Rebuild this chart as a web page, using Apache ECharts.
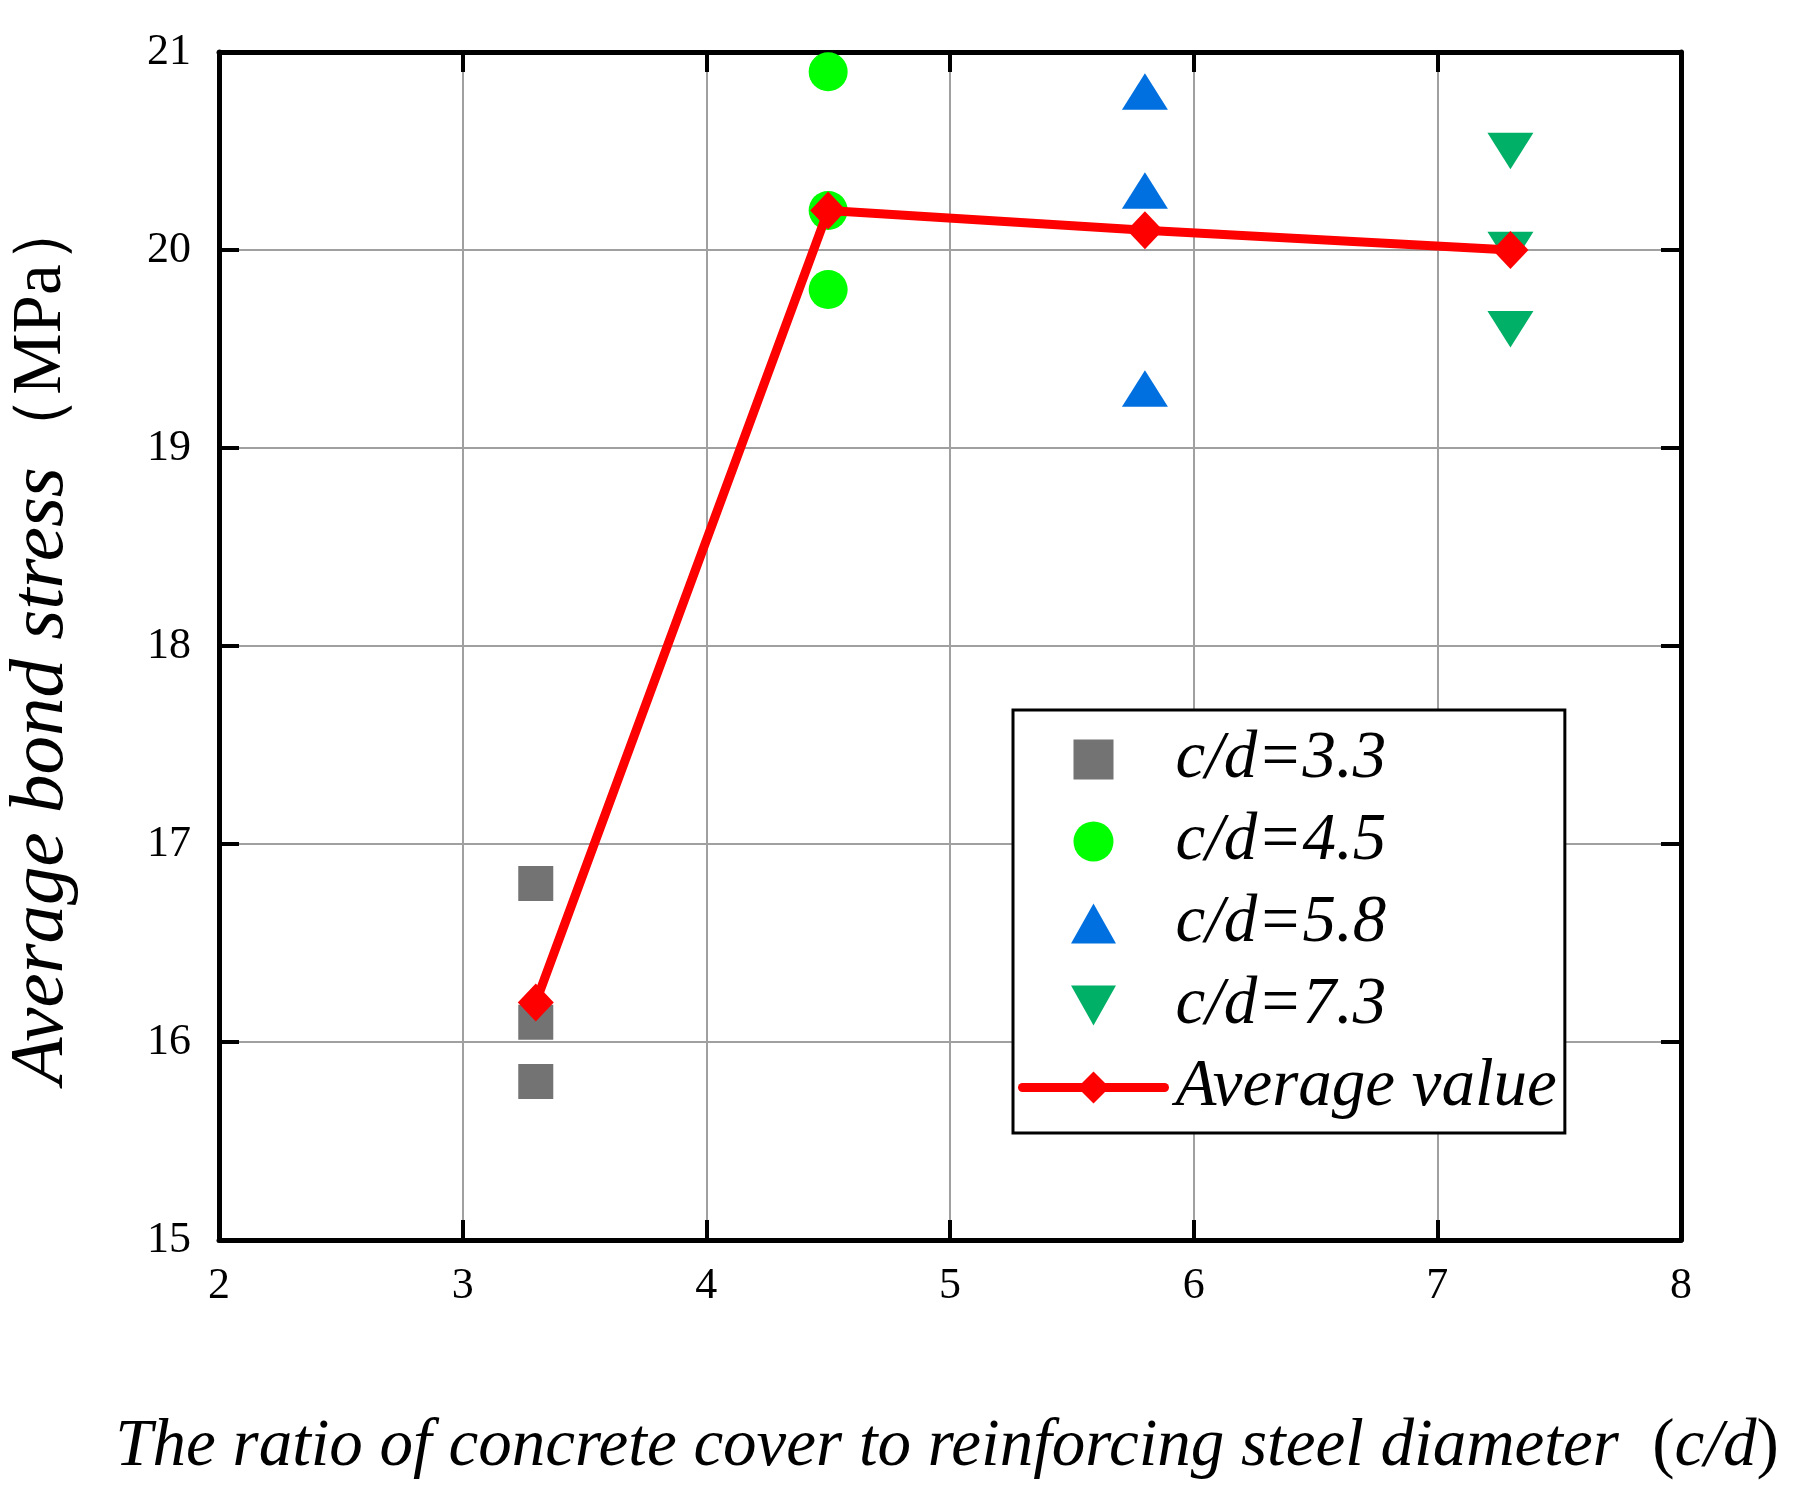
<!DOCTYPE html>
<html>
<head>
<meta charset="utf-8">
<script src="https://cdn.jsdelivr.net/npm/echarts@6/dist/echarts.min.js"></script>
<style>
html,body{margin:0;padding:0;background:#fff;}
#chart{width:1803px;height:1502px;}
</style>
</head>
<body>
<div id="chart"></div>
<script>
// ---- data ----
const xTicks = [2, 3, 4, 5, 6, 7, 8];
const yTicks = [15, 16, 17, 18, 19, 20, 21];
const seriesNames = ['c/d=3.3', 'c/d=4.5', 'c/d=5.8', 'c/d=7.3', 'Average value'];
const cd33 = [[3.3, 16.8], [3.3, 16.1], [3.3, 15.8]];
const cd45 = [[4.5, 20.9], [4.5, 20.2], [4.5, 19.8]];
const cd58 = [[5.8, 20.8], [5.8, 20.3], [5.8, 19.3]];
const cd73 = [[7.3, 20.5], [7.3, 20.0], [7.3, 19.6]];
const avgX = [3.3, 4.5, 5.8, 7.3];
const avgY = [16.2, 20.2, 20.1, 20.0];
const xTitle = 'The ratio of concrete cover to reinforcing steel diameter';
const yTitle = 'Average bond stress';

const FONT = "'Liberation Serif', 'Times New Roman', serif";
const chart = echarts.init(document.getElementById('chart'), null, {renderer: 'canvas'});

function mkX(pos, showLabel, showSplit) {
  return {
    type: 'value', position: pos, min: xTicks[0], max: xTicks[xTicks.length - 1], interval: 1,
    axisLine: {show: true, onZero: false, lineStyle: {color: '#000', width: 5}},
    axisTick: {show: true, inside: true, length: 20, lineStyle: {color: '#000', width: 4}},
    axisLabel: {show: showLabel, margin: 24, color: '#000', fontFamily: FONT, fontSize: 44},
    splitLine: {show: showSplit, lineStyle: {color: '#a0a0a0', width: 2}}
  };
}
function mkY(pos, showLabel, showSplit) {
  return {
    type: 'value', position: pos, min: yTicks[0], max: yTicks[yTicks.length - 1], interval: 1,
    axisLine: {show: true, onZero: false, lineStyle: {color: '#000', width: 5}},
    axisTick: {show: true, inside: true, length: 20, lineStyle: {color: '#000', width: 4}},
    axisLabel: {show: showLabel, margin: 28, color: '#000', fontFamily: FONT, fontSize: 44},
    splitLine: {show: showSplit, lineStyle: {color: '#a0a0a0', width: 2}}
  };
}

function scatter(name, data, symbol, size, color) {
  return {
    name: name, type: 'scatter', data: data, symbol: symbol, symbolSize: size,
    symbolKeepAspect: true,
    itemStyle: {color: color, opacity: 1},
    z: 2
  };
}

const option = {
  backgroundColor: '#fff',
  animation: false,
  grid: {left: 219, right: 122, top: 52, bottom: 262, containLabel: false},
  xAxis: [mkX('bottom', true, true), mkX('top', false, false)],
  yAxis: [mkY('left', true, true), mkY('right', false, false)],
  legend: {
    left: 1013, top: 710, orient: 'vertical',
    backgroundColor: '#fff',
    borderColor: '#000', borderWidth: 3,
    padding: [16, 8, 12, 5],
    itemWidth: 142, itemHeight: 40, itemGap: 15,
    lineStyle: {width: 9},
    textStyle: {fontFamily: FONT, fontStyle: 'italic', fontSize: 67, color: '#000', padding: [0, 0, 0, 6]},
    data: seriesNames
  },
  graphic: [
    {
      type: 'text', x: 947, y: 1447,
      style: {
        text: '{i|' + xTitle + '}{n|  (}{i|c/d}{n|)}',
        align: 'center', verticalAlign: 'middle',
        rich: {
          i: {fontFamily: FONT, fontStyle: 'italic', fontSize: 67, fill: '#000'},
          n: {fontFamily: FONT, fontSize: 67, fill: '#000'}
        }
      }
    },
    {
      type: 'text', x: 42, y: 640, rotation: Math.PI / 2,
      style: {
        text: '{i|' + yTitle + '} {n|（MPa）}',
        align: 'center', verticalAlign: 'middle',
        rich: {
          i: {fontFamily: FONT, fontStyle: 'italic', fontSize: 77, fill: '#000'},
          n: {fontFamily: FONT, fontSize: 69, fill: '#000'}
        }
      }
    }
  ],
  series: [
    scatter(seriesNames[0], cd33, 'path://M0,0L35,0L35,35L0,35Z', [35, 35], '#737373'),
    scatter(seriesNames[1], cd45, 'circle', [39, 39], '#00ff00'),
    scatter(seriesNames[2], cd58, 'path://M23,0L46,41L0,41Z', [46, 41], '#0070e0'),
    scatter(seriesNames[3], cd73, 'path://M0,0L46,0L23,41Z', [46, 41], '#00b066'),
    {
      name: seriesNames[4], type: 'line',
      data: avgX.map((x, i) => [x, avgY[i]]),
      symbol: 'diamond', symbolSize: [36, 38],
      showAllSymbol: true,
      lineStyle: {color: '#ff0000', width: 9, cap: 'round'},
      itemStyle: {color: '#ff0000'},
      z: 5
    }
  ]
};
chart.setOption(option);
</script>
</body>
</html>
